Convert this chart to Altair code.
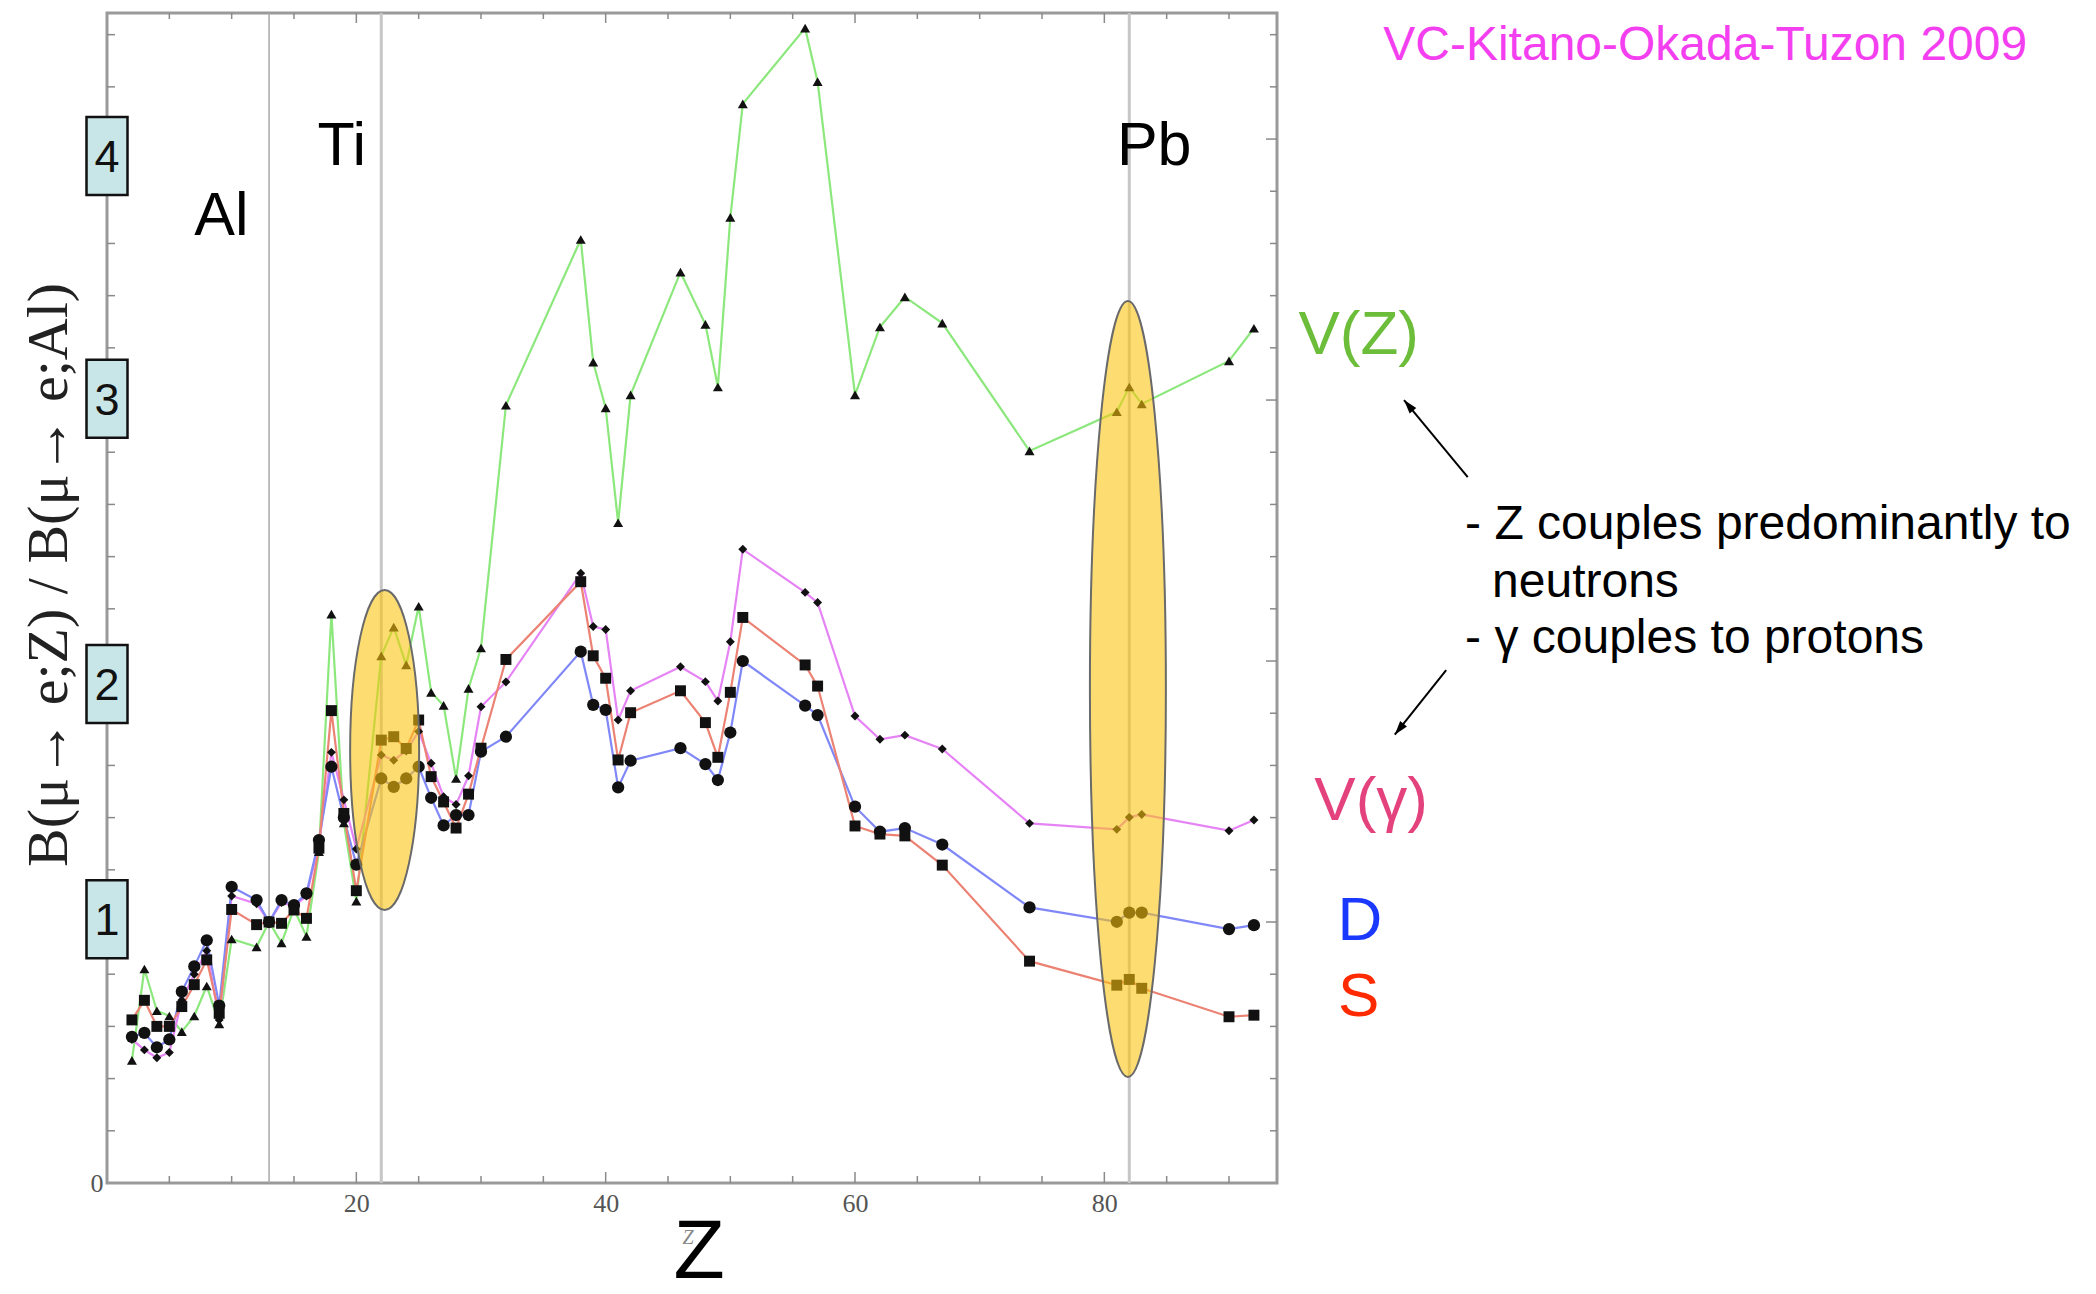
import math
import altair as alt
import pandas as pd

# ---------------- data ----------------
Z = [2, 3, 4, 5, 6, 7, 8, 9, 10, 12, 13, 14, 15, 16, 17, 18, 19, 20, 22, 23, 24, 25, 26, 27,
     28, 29, 30, 32, 38, 39, 40, 41, 42, 46, 48, 49, 50, 51, 56, 57, 60, 62, 64, 67, 74, 81,
     82, 83, 90, 92]

v_Z = [0.47, 0.82, 0.66, 0.64, 0.58, 0.64, 0.755, 0.61, 0.935, 0.905, 1.0, 0.92, 1.05, 0.945,
       1.27, 2.18, 1.38, 1.08, 2.02, 2.13, 1.985, 2.21, 1.88, 1.83, 1.55, 1.895, 2.05, 2.98,
       3.615, 3.145, 2.97, 2.53, 3.02, 3.49, 3.29, 3.05, 3.70, 4.135, 4.425, 4.22, 3.02, 3.28,
       3.395, 3.295, 2.805, 2.955, 3.05, 2.985, 3.15, 3.275]

v_gamma = [0.55, 0.51, 0.48, 0.50, 0.70, 0.80, 0.89, 0.625, 1.10, 1.07, 1.0, 1.075, 1.06, 1.10,
           1.30, 1.65, 1.468, 1.28, 1.64, 1.62, 1.655, 1.73, 1.608, 1.48, 1.45, 1.56, 1.825,
           1.92, 2.336, 2.132, 2.121, 1.774, 1.886, 1.978, 1.921, 1.847, 2.074, 2.428, 2.263,
           2.224, 1.789, 1.70, 1.716, 1.663, 1.378, 1.355, 1.401, 1.412, 1.35, 1.391]

dipole = [0.56, 0.575, 0.52, 0.55, 0.733, 0.83, 0.93, 0.68, 1.135, 1.084, 1.0, 1.084, 1.065,
          1.11, 1.314, 1.595, 1.40, 1.22, 1.55, 1.518, 1.55, 1.595, 1.476, 1.37, 1.41, 1.41,
          1.653, 1.71, 2.036, 1.832, 1.813, 1.516, 1.618, 1.666, 1.605, 1.544, 1.726, 2.0,
          1.829, 1.793, 1.442, 1.346, 1.36, 1.297, 1.056, 1.001, 1.036, 1.036, 0.973, 0.988]

scalar = [0.625, 0.70, 0.60, 0.60, 0.676, 0.76, 0.855, 0.65, 1.048, 0.99, 1.0, 0.995, 1.046,
          1.014, 1.283, 1.81, 1.416, 1.12, 1.697, 1.71, 1.665, 1.774, 1.557, 1.46, 1.36, 1.49,
          1.666, 2.006, 2.304, 2.02, 1.934, 1.621, 1.802, 1.886, 1.764, 1.631, 1.88, 2.167,
          1.985, 1.904, 1.368, 1.337, 1.33, 1.218, 0.85, 0.758, 0.78, 0.746, 0.637, 0.643]

series_names = ["V(Z)", "V(γ)", "D", "S"]

element_names = ["Al", "Ti", "Pb"]
element_Z = [13, 22, 82]

x_label_ticks = [20, 40, 60, 80]
x_minor_ticks = [5, 10, 15, 25, 30, 35, 45, 50, 55, 65, 70, 75, 85, 90]
y_label_ticks = [0]
y_major_ticks = [1, 2, 3, 4]
y_minor_ticks = [0.2, 0.4, 0.6, 0.8, 1.2, 1.4, 1.6, 1.8, 2.2, 2.4, 2.6, 2.8, 3.2, 3.4, 3.6,
                 3.8, 4.2, 4.4]

box_labels = ["1", "2", "3", "4"]
box_values = [1.011, 1.912, 3.005, 3.935]

# ---------------- layout / style ----------------
W = H = 1170
X_DOMAIN = [0, 93.85]
Y_DOMAIN = [0, 4.483]
PX_PER_Z = W / (X_DOMAIN[1] - X_DOMAIN[0])
PX_PER_V = H / (Y_DOMAIN[1] - Y_DOMAIN[0])

line_colors = ["#8ce87c", "#e684f5", "#8088f8", "#eb8273"]
marker_shapes = ["triangle-up", "diamond", "circle", "square"]
marker_sizes = [100, 80, 150, 120]
SANS = "Liberation Sans"
SERIF = "Liberation Serif"
TICK_C = "#8a8a8a"

xs = alt.Scale(domain=X_DOMAIN, nice=False, zero=False)
ys = alt.Scale(domain=Y_DOMAIN, nice=False, zero=False)

x_axis = alt.Axis(values=x_label_ticks, title=None, grid=False, domain=False, ticks=False,
                  labelFont=SERIF, labelFontSize=26, labelColor="#555", labelPadding=7,
                  labelFlush=False)
y_axis = alt.Axis(values=y_label_ticks, title=None, grid=False, domain=False, ticks=False,
                  labelFont=SERIF, labelFontSize=26, labelColor="#555", labelPadding=4)


def X(field="Z"):
    return alt.X(f"{field}:Q", scale=xs, axis=x_axis, title=None)


def Y(field="v"):
    return alt.Y(f"{field}:Q", scale=ys, axis=y_axis, title=None)


rows = []
for name, vals in zip(series_names, [v_Z, v_gamma, dipole, scalar]):
    for z, v in zip(Z, vals):
        rows.append({"Z": z, "v": v, "series": name})
df = pd.DataFrame(rows)

layers = []

# element guide lines
elem_df = pd.DataFrame({"Z": element_Z, "name": element_names})
layers.append(alt.Chart(elem_df).transform_filter(alt.datum.name == "Al")
              .mark_rule(color="#a8a8a8", strokeWidth=1.5).encode(x=X()))
layers.append(alt.Chart(elem_df).transform_filter(alt.datum.name != "Al")
              .mark_rule(color="#c6c6c6", strokeWidth=3).encode(x=X()))

# series lines
layers.append(
    alt.Chart(df).mark_line(strokeWidth=2.2).encode(
        x=X(), y=Y(),
        color=alt.Color("series:N", scale=alt.Scale(domain=series_names, range=line_colors),
                        legend=None),
    )
)

# markers
for name, shp, sz in zip(series_names, marker_shapes, marker_sizes):
    layers.append(
        alt.Chart(df).transform_filter(alt.datum.series == name)
        .mark_point(filled=True, shape=shp, size=sz, color="#111", opacity=1)
        .encode(x=X(), y=Y())
    )


# highlight ellipses (custom symbol path, ry = 1)
def ellipse_path(rx):
    k = 0.5523
    return (f"M 0 -1 C {k*rx:.4f} -1 {rx:.4f} {-k:.4f} {rx:.4f} 0 "
            f"C {rx:.4f} {k:.4f} {k*rx:.4f} 1 0 1 "
            f"C {-k*rx:.4f} 1 {-rx:.4f} {k:.4f} {-rx:.4f} 0 "
            f"C {-rx:.4f} {-k:.4f} {-k*rx:.4f} -1 0 -1 Z")


for cz, cv, a_px, b_px in [(22.27, 1.659, 34.5, 160), (81.89, 1.893, 38, 388)]:
    layers.append(
        alt.Chart(pd.DataFrame({"Z": [cz], "v": [cv]}))
        .mark_point(shape=ellipse_path(a_px / b_px), size=(2 * b_px) ** 2, filled=True,
                    fill="#fcc40c", fillOpacity=0.58, stroke="#6a6a6a", strokeWidth=2,
                    strokeOpacity=1, opacity=1)
        .encode(x=X(), y=Y())
    )

# inward frame ticks
for vals, ln in [(x_minor_ticks, 7), (x_label_ticks, 11)]:
    d = pd.DataFrame({"Z": vals})
    layers.append(alt.Chart(d).mark_rule(color=TICK_C, strokeWidth=1.5)
                  .encode(x=X(), y=alt.value(H), y2=alt.value(H - ln)))
    layers.append(alt.Chart(d).mark_rule(color=TICK_C, strokeWidth=1.5)
                  .encode(x=X(), y=alt.value(0), y2=alt.value(ln - 1)))
for vals, ln in [(y_minor_ticks, 8), (y_major_ticks, 12)]:
    d = pd.DataFrame({"v": vals})
    layers.append(alt.Chart(d).mark_rule(color=TICK_C, strokeWidth=1.5)
                  .encode(y=Y(), x=alt.value(0), x2=alt.value(ln)))
    layers.append(alt.Chart(d).mark_rule(color=TICK_C, strokeWidth=1.5)
                  .encode(y=Y(), x=alt.value(W), x2=alt.value(W - ln + 1)))

# label boxes on the y axis
box_df = pd.DataFrame({"lab": box_labels, "v": box_values})
half_h = 39 / PX_PER_V
half_w = 20.5 / PX_PER_Z
layers.append(
    alt.Chart(box_df)
    .transform_calculate(y1=f"datum.v - {half_h}", y2=f"datum.v + {half_h}",
                         x1=f"{-half_w}", x2=f"{half_w}")
    .mark_rect(fill="#c8e6e8", stroke="#111", strokeWidth=2.5)
    .encode(x=X("x1"), x2="x2:Q", y=Y("y1"), y2="y2:Q")
)
layers.append(
    alt.Chart(box_df).transform_calculate(z0="0")
    .mark_text(font=SANS, fontSize=45, color="#111", align="center", baseline="middle", dy=2)
    .encode(x=X("z0"), y=Y(), text="lab:N")
)


def text_layer(txt, z, v, size, color="#000", font=SANS, align="center",
               baseline="alphabetic", **kw):
    return (alt.Chart(pd.DataFrame({"t": [txt], "Z": [z], "v": [v]}))
            .mark_text(font=font, fontSize=size, color=color, align=align, baseline=baseline,
                       **kw)
            .encode(x=X(), y=Y(), text="t:N"))


# element labels
layers.append(text_layer("Al", 9.17, 3.632, 61))
layers.append(text_layer("Ti", 18.83, 3.90, 61))
layers.append(text_layer("Pb", 84.0, 3.90, 61))

# right-hand annotations
layers.append(text_layer("VC-Kitano-Okada-Tuzon 2009", 128.2, 4.304, 48, "#f43ff0"))
layers.append(text_layer("V(Z)", 100.4, 3.176, 62, "#6bbd3a"))
layers.append(text_layer("V(γ)", 101.4, 1.391, 62, "#e3427d"))
layers.append(text_layer("D", 100.5, 0.931, 62, "#1b38ff"))
layers.append(text_layer("S", 100.4, 0.64, 62, "#ff2a00"))
layers.append(text_layer("- Z couples predominantly to", 108.94, 2.467, 48, align="left"))
layers.append(text_layer("neutrons", 111.1, 2.247, 48, align="left"))
layers.append(text_layer("- γ couples to protons", 108.94, 2.032, 48, align="left"))

# arrows
arrows = pd.DataFrame({"Z1": [109.15, 107.42], "v1": [2.705, 1.965],
                       "Z2": [104.04, 103.3], "v2": [3.0, 1.718]})
layers.append(
    alt.Chart(arrows).mark_rule(color="#000", strokeWidth=2)
    .encode(x=X("Z1"), x2="Z2:Q", y=Y("v1"), y2="v2:Q")
)
head_rows = []
HEAD_R = 7
for z1, v1, z2, v2 in arrows.itertuples(index=False):
    dx = (z2 - z1) * PX_PER_Z
    dy = -(v2 - v1) * PX_PER_V
    L = math.hypot(dx, dy)
    ux, uy = dx / L, dy / L
    ang = math.degrees(math.atan2(ux, -uy)) % 360
    head_rows.append({"Z": z2 - ux * HEAD_R / PX_PER_Z, "v": v2 + uy * HEAD_R / PX_PER_V,
                      "ang": ang})
layers.append(
    alt.Chart(pd.DataFrame(head_rows))
    .mark_point(shape="M 0 -1 L 0.62 1 L -0.62 1 Z", size=(2 * HEAD_R) ** 2, filled=True,
                color="#000", opacity=1)
    .encode(x=X(), y=Y(), angle=alt.Angle("ang:Q", scale=None))
)

# axis titles
layers.append(text_layer("B(μ→ e;Z) / B(μ→ e;Al)", -4.6, 2.33, 58, "#222", font=SERIF,
                         baseline="middle", angle=270))
layers.append(text_layer("Z", 46.6, -0.235, 20, "#888", font=SERIF, fontStyle="italic"))
layers.append(text_layer("Z", 47.5, -0.365, 84, "#000"))

chart = (
    alt.layer(*layers)
    .properties(width=W, height=H, autosize=alt.AutoSizeParams(type="none"),
                padding={"left": 99, "top": 5, "right": 811, "bottom": 103},
                background="white")
    .configure_view(stroke="#9a9a9a", strokeWidth=3)
)

chart.save("out.html", embed_options={"renderer": "svg", "actions": False})
